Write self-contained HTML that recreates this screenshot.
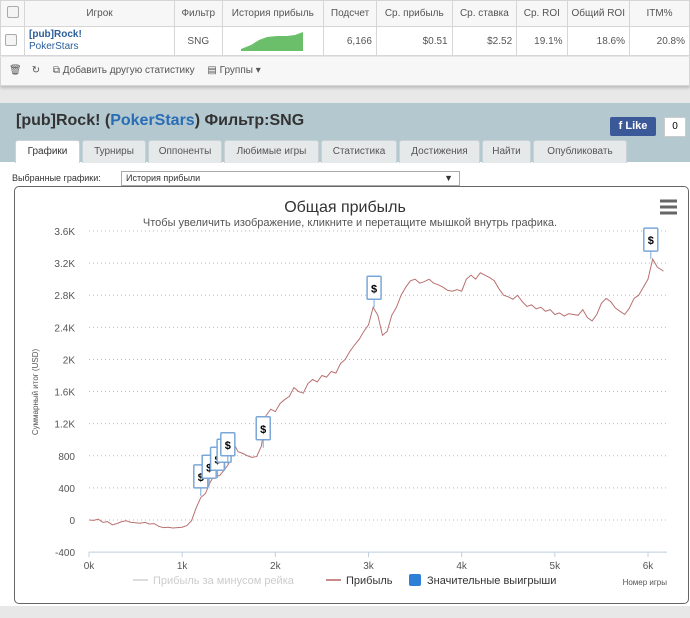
<!DOCTYPE html>
<html><head><meta charset="utf-8">
<style>
body{margin:0;width:690px;height:618px;overflow:hidden;background:#e8e8e8;font-family:"Liberation Sans","DejaVu Sans",sans-serif;position:relative}
.abs{position:absolute}
table.t{border-collapse:collapse;position:absolute;left:0;top:0;width:690px;background:#fff;font-size:10px;color:#555}
table.t td{border:1px solid #d6d6d6;height:29px;padding:0 4px;white-space:nowrap;overflow:hidden;box-sizing:border-box}
table.t tr.h td{background:#f7f7f7;height:26px;text-align:center}
.cb{display:inline-block;width:10px;height:10px;border:1px solid #aaa;border-radius:2px;background:#f4f4f4}
.tab{position:absolute;top:140px;height:22px;background:#e6e9ea;border:1px solid #c9d2d6;border-bottom:none;font-size:10px;color:#555;text-align:center;line-height:22px;border-radius:3px 3px 0 0}
</style></head><body>
<table class="t">
<tr class="h"><td style="width:24px"><span class="cb"></span></td><td style="width:150px">Игрок</td><td>Фильтр</td><td>История прибыль</td><td>Подсчет</td><td>Ср. прибыль</td><td>Ср. ставка</td><td>Ср. ROI</td><td style="width:60px">Общий ROI</td><td style="width:60px">ITM%</td></tr>
<tr><td><span class="cb"></span></td><td style="line-height:12px"><b style="color:#2a5d9a">[pub]Rock!</b><br><span style="color:#2a5d9a">PokerStars</span></td><td style="text-align:center">SNG</td><td><svg width="76" height="22"><polygon points="14,20 24,16 32,11 40,8 50,7 60,7 68,6 76,3 76,22 14,22" fill="#6cbf6a"/></svg></td><td style="text-align:right">6,166</td><td style="text-align:right">$0.51</td><td style="text-align:right">$2.52</td><td style="text-align:right">19.1%</td><td style="text-align:right">18.6%</td><td style="text-align:right">20.8%</td></tr>
</table>
<div class="abs" style="left:0;top:57px;width:688px;height:28px;background:#f7f7f7;border:1px solid #d6d6d6;border-top:none;font-size:10px;color:#555;line-height:28px;box-shadow:0 2px 3px #bbb">
<span style="margin-left:8px">🗑</span><span style="margin-left:10px">↻</span>
<span style="margin-left:10px">⧉ Добавить другую статистику</span>
<span style="margin-left:10px">▤ Группы ▾</span></div>
<div class="abs" style="left:0;top:103px;width:690px;height:503px;background:#fff"></div>
<div class="abs" style="left:0;top:103px;width:690px;height:59px;background:#b4c8d0"></div>
<div class="abs" style="left:16px;top:112px;font-size:16px;font-weight:bold;color:#333">[pub]Rock! (<span style="color:#2a6db5">PokerStars</span>) Фильтр:SNG</div>
<div class="abs" style="left:610px;top:117px;width:46px;height:19px;background:#3b5998;color:#fff;font-size:11px;font-weight:bold;line-height:19px;text-align:center;border-radius:2px">f Like</div>
<div class="abs" style="left:664px;top:117px;width:20px;height:18px;background:#fff;border:1px solid #ccc;font-size:10px;line-height:18px;text-align:center">0</div>
<div class="tab" style="left:15px;width:63px;background:#fff;color:#333">Графики</div>
<div class="tab" style="left:82px;width:62px">Турниры</div>
<div class="tab" style="left:148px;width:72px">Оппоненты</div>
<div class="tab" style="left:224px;width:93px">Любимые игры</div>
<div class="tab" style="left:321px;width:74px">Статистика</div>
<div class="tab" style="left:399px;width:79px">Достижения</div>
<div class="tab" style="left:482px;width:47px">Найти</div>
<div class="tab" style="left:533px;width:92px">Опубликовать</div>
<div class="abs" style="left:12px;top:173px;font-size:9px;color:#333">Выбранные графики:</div>
<div class="abs" style="left:121px;top:171px;width:333px;height:13px;border:1px solid #aaa;font-size:9px;line-height:13px;padding-left:4px;color:#333">История прибыли<span style="position:absolute;right:6px">▼</span></div>
<div class="abs" style="left:14px;top:186px;width:673px;height:416px;border:1px solid #666;border-radius:5px;background:#fff"></div>
<svg class="abs" style="left:0;top:0" width="690" height="618" id="chart"></svg>
<script>
const tickVals=[-400,0,400,800,1200,1600,2000,2400,2800,3200,3600];
const tickLabels=["-400","0","400","800","1.2K","1.6K","2K","2.4K","2.8K","3.2K","3.6K"];
const xTicks=[0,1000,2000,3000,4000,5000,6000];
const xTickLabels=["0k","1k","2k","3k","4k","5k","6k"];
const games=[0,50,100,150,200,250,300,350,400,450,500,550,600,650,700,750,800,850,900,950,1000,1050,1100,1150,1200,1250,1300,1350,1400,1450,1500,1550,1600,1650,1700,1750,1800,1850,1900,1950,2000,2050,2100,2150,2200,2250,2300,2350,2400,2450,2500,2550,2600,2650,2700,2750,2800,2850,2900,2950,3000,3050,3100,3150,3200,3250,3300,3350,3400,3450,3500,3550,3600,3650,3700,3750,3800,3850,3900,3950,4000,4050,4100,4150,4200,4250,4300,4350,4400,4450,4500,4550,4600,4650,4700,4750,4800,4850,4900,4950,5000,5050,5100,5150,5200,5250,5300,5350,5400,5450,5500,5550,5600,5650,5700,5750,5800,5850,5900,5950,6000,6050,6100,6166];
const profit=[0,-5,10,-30,-20,-60,-45,-20,-10,-30,-35,-40,-30,-50,-45,-80,-95,-90,-100,-95,-90,-70,-10,150,280,330,470,560,550,620,700,960,850,830,800,780,790,920,1300,1380,1350,1450,1500,1540,1650,1600,1580,1700,1750,1720,1800,1780,1850,1830,1950,2000,2100,2180,2250,2350,2430,2650,2550,2300,2350,2550,2650,2800,2900,2980,3000,2950,2970,3000,2950,2930,2900,2860,2850,2870,2850,3000,3050,3000,3080,3050,3020,2980,2880,2800,2780,2750,2800,2720,2660,2680,2630,2650,2600,2620,2560,2580,2540,2570,2560,2550,2620,2520,2480,2560,2700,2760,2720,2640,2600,2560,2640,2760,2800,2900,3000,3250,3150,3100];
const bigWinGames=[1200,1290,1380,1450,1490,1870,3060,6030];
const bigWinProfit=[300,420,520,620,700,900,2650,3250];
const svg=document.getElementById('chart');
const NS='http://www.w3.org/2000/svg';
const X0=89,X1=667,Y0=520,Y1=231;
const xs=v=>X0+v*(648-89)/6000;
const ys=v=>Y0-v*(Y0-Y1)/3600;
function el(t,a,txt){const e=document.createElementNS(NS,t);for(const k in a)e.setAttribute(k,a[k]);if(txt!==undefined)e.textContent=txt;svg.appendChild(e);return e;}
let e;
e=el('text',{x:345,y:212,'text-anchor':'middle','font-size':16,fill:'#333','font-family':'Liberation Sans,sans-serif'},'Общая прибыль');


e=el('text',{x:350,y:226,'text-anchor':'middle','font-size':11,fill:'#555','font-family':'Liberation Sans,sans-serif'},'Чтобы увеличить изображение, кликните и перетащите мышкой внутрь графика.');


e=el('path',{d:'M660,201h17M660,207h17M660,213h17',stroke:'#666','stroke-width':3});


tickVals.forEach((v,i)=>{
 e=el('line',{x1:X0,x2:X1,y1:ys(v),y2:ys(v),stroke:'#bbb','stroke-dasharray':'1,3'});
 
 
 e=el('text',{x:75,y:ys(v)+4,'text-anchor':'end','font-size':10,fill:'#555'},tickLabels[i]);
 
 
});
e=el('line',{x1:X0,x2:X1,y1:ys(-400),y2:ys(-400),stroke:'#c0d0e0'});


xTicks.forEach((v,i)=>{
 e=el('line',{x1:xs(v),x2:xs(v),y1:ys(-400),y2:ys(-400)+5,stroke:'#c0d0e0'});
 
 
 e=el('text',{x:xs(v),y:569,'text-anchor':'middle','font-size':10,fill:'#555'},xTickLabels[i]);
 
 
});
e=el('text',{x:0,y:0,transform:'translate(38,392) rotate(-90)','text-anchor':'middle','font-size':8,fill:'#555'},'Суммарный итог (USD)');


e=el('text',{x:667,y:585,'text-anchor':'end','font-size':8,fill:'#555'},'Номер игры');


e=el('polyline',{points:games.map((g,i)=>xs(g)+','+ys(profit[i])).join(' '),fill:'none',stroke:'#b97070','stroke-width':1});


bigWinGames.forEach((g,i)=>{
 const x=xs(g),y=ys(bigWinProfit[i]);
 e=el('line',{x1:x,x2:x,y1:y,y2:y-8,stroke:'#7aa7d8'});
 
 
 e=el('rect',{x:x-7,y:y-31,width:14,height:23,fill:'#fff',stroke:'#7aa7d8','stroke-width':1.5,rx:1});
 
 
 e=el('text',{x:x,y:y-15,'text-anchor':'middle','font-size':11,'font-weight':'bold',fill:'#000'},'$');
 
 
});
e=el('line',{x1:133,x2:148,y1:580,y2:580,stroke:'#ddd','stroke-width':2});


e=el('text',{x:153,y:584,'font-size':11,fill:'#ccc'},'Прибыль за минусом рейка');


e=el('line',{x1:326,x2:341,y1:580,y2:580,stroke:'#c98a8a','stroke-width':2});


e=el('text',{x:346,y:584,'font-size':11,fill:'#333'},'Прибыль');


e=el('rect',{x:409,y:574,width:12,height:12,fill:'#2f7ed8',rx:2});


e=el('text',{x:427,y:584,'font-size':11,fill:'#333'},'Значительные выигрыши');


</script>
</body></html>
